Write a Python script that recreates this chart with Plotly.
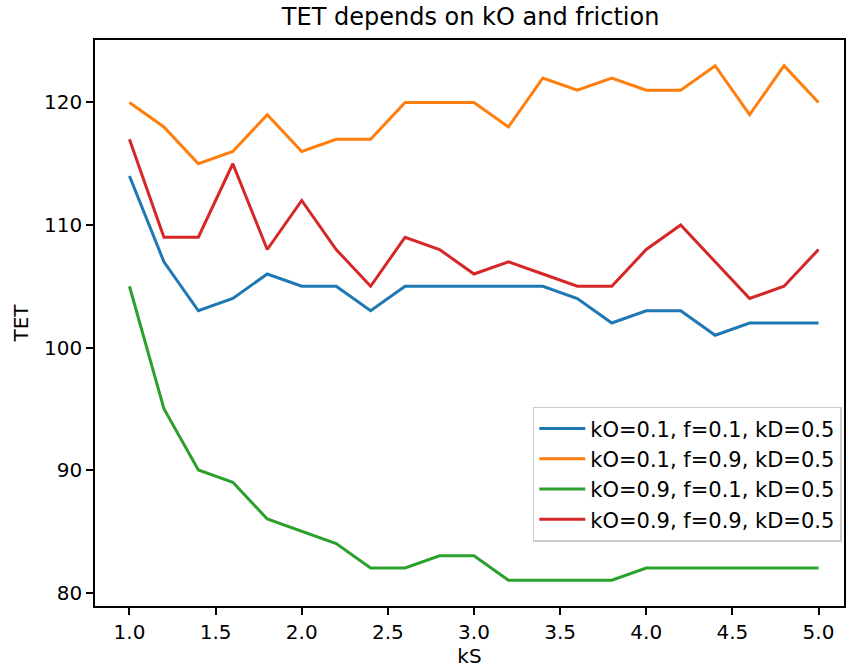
import plotly.graph_objects as go

ks = [1.0, 1.2, 1.4, 1.6, 1.8, 2.0, 2.2, 2.4, 2.6, 2.8, 3.0,
      3.2, 3.4, 3.6, 3.8, 4.0, 4.2, 4.4, 4.6, 4.8, 5.0]

tet_o01_f01 = [114, 107, 103, 104, 106, 105, 105, 103, 105, 105, 105,
               105, 105, 104, 102, 103, 103, 101, 102, 102, 102]
tet_o01_f09 = [120, 118, 115, 116, 119, 116, 117, 117, 120, 120, 120,
               118, 122, 121, 122, 121, 121, 123, 119, 123, 120]
tet_o09_f01 = [105, 95, 90, 89, 86, 85, 84, 82, 82, 83, 83,
               81, 81, 81, 81, 82, 82, 82, 82, 82, 82]
tet_o09_f09 = [117, 109, 109, 115, 108, 112, 108, 105, 109, 108, 106,
               107, 106, 105, 105, 108, 110, 107, 104, 105, 108]

x_ticks = [1.0, 1.5, 2.0, 2.5, 3.0, 3.5, 4.0, 4.5, 5.0]
y_ticks = [80, 90, 100, 110, 120]

series = [
    ("kO=0.1, f=0.1, kD=0.5", tet_o01_f01, "#1f77b4"),
    ("kO=0.1, f=0.9, kD=0.5", tet_o01_f09, "#ff7f0e"),
    ("kO=0.9, f=0.1, kD=0.5", tet_o09_f01, "#2ca02c"),
    ("kO=0.9, f=0.9, kD=0.5", tet_o09_f09, "#d62728"),
]

fig = go.Figure()
for name, vals, color in series:
    fig.add_trace(go.Scatter(x=ks, y=vals, mode="lines", name=name,
                             line=dict(color=color, width=3)))

axis_common = dict(showline=True, linecolor="black", linewidth=1.6, mirror=True,
                   ticks="outside", ticklen=7, tickwidth=1.6, tickcolor="black",
                   showgrid=False, zeroline=False,
                   tickfont=dict(size=20, color="black"))

fig.update_layout(
    width=848, height=671,
    margin=dict(l=95, r=2, t=40, b=65),
    paper_bgcolor="white", plot_bgcolor="white",
    font=dict(family="DejaVu Sans", color="black"),
    title=dict(text="TET depends on kO and friction", x=0.555, xanchor="center",
               y=0.975, yanchor="middle", font=dict(size=24, color="black")),
    xaxis=dict(range=[0.8, 5.148], tickvals=x_ticks,
               ticktext=[f"{v:.1f}" for v in x_ticks],
               title=dict(text="kS", font=dict(size=20), standoff=4), **axis_common),
    yaxis=dict(range=[78.9, 125.1], tickvals=y_ticks,
               title=dict(text="TET", font=dict(size=20), standoff=10), **axis_common),
    legend=dict(x=0.997, y=0.352, xanchor="right", yanchor="top",
                bgcolor="rgba(255,255,255,0.8)", bordercolor="#cccccc", borderwidth=1.5,
                font=dict(size=21, color="black"), tracegroupgap=0,
                itemwidth=46),
)

fig.write_html("out.html")
